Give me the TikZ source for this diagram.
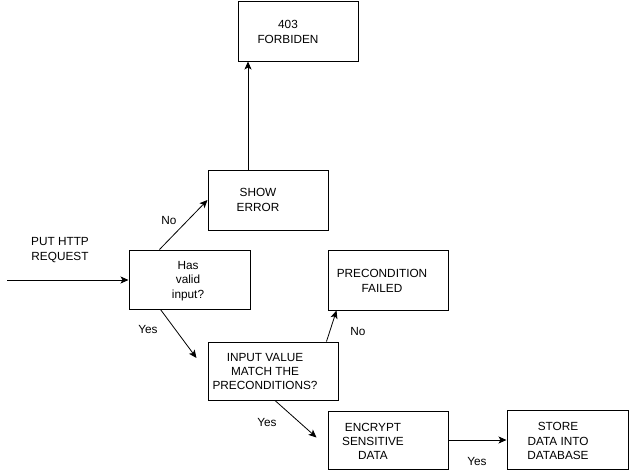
\documentclass[tikz,border=0pt]{standalone}
\usepackage{fontspec}
\setmainfont{Liberation Sans}
\usetikzlibrary{arrows.meta,calc}
\begin{document}
\begin{tikzpicture}[x=1pt,y=-1pt,
  box/.style={draw=black,line width=1pt,minimum width=120pt,minimum height=60pt,inner sep=0pt},
  txt/.style={align=center,inner sep=0pt,font=\fontsize{11.8}{14.3}\selectfont},
  arr/.style={draw=black,line width=0.8pt,-{Stealth[length=8pt,width=7pt,inset=2pt]}}]
\useasboundingbox (0,0) rectangle (629,471);
% boxes
\node[box] (forb) at (298,31) {};
\node[box] (show) at (268,200) {};
\node[box,minimum width=121pt,minimum height=59pt] (has) at (189.5,279.5) {};
\node[box] (pre) at (388,280) {};
\node[box,minimum width=130pt,minimum height=58pt] (iv) at (273,371) {};
\node[box,minimum height=58pt] (enc) at (388,440) {};
\node[box,minimum width=121pt,minimum height=59pt] (store) at (567.5,439.5) {};
% box texts
\node[txt] (forbt) at (288,32) {403\\FORBIDEN};
\node[txt] (showt) at (258,200) {SHOW\\ERROR};
\node[txt] (hast) at (188,281) {Has\\valid\\input?};
\node[txt] (pret) at (382,281) {PRECONDITION\\FAILED};
\node[txt] (ivt) at (265,371.5) {INPUT VALUE\\MATCH THE\\PRECONDITIONS?};
\node[txt] (enct) at (373,441.5) {ENCRYPT\\SENSITIVE\\DATA};
\node[txt] (storet) at (558,441) {STORE\\DATA INTO\\DATABASE};
% free labels
\node[txt] (put) at (60,250) {PUT HTTP\\REQUEST};
\node[txt] (no1) at (169,220) {No};
\node[txt] (yes1) at (148,329) {Yes};
\node[txt] (no2) at (358,331) {No};
\node[txt] (yes2) at (267,422) {Yes};
\node[txt] (yes3) at (477,461) {Yes};
% connectors
\coordinate (start) at (7,280);
\draw[arr] (start) -- (start -| has.west);
\draw[arr] ($(show.north)+(-20,0)$) -- ($(forb.south)+(-50,0)$);
\draw[arr] ($(has.north)+(-30,0)$) -- (show.west);
\draw[arr] ($(has.south)+(-29,0)$) -- ($(iv.west)+(-11,-13)$);
\draw[arr] ($(iv.north east)+(-12,0)$) -- ($(pre.south west)+(9,0)$);
\draw[arr] ($(iv.south)+(2,0)$) -- ($(enc.west)+(-11,-2.5)$);
\draw[arr] (enc.east) -- (enc.east -| store.west);
\end{tikzpicture}
\end{document}
